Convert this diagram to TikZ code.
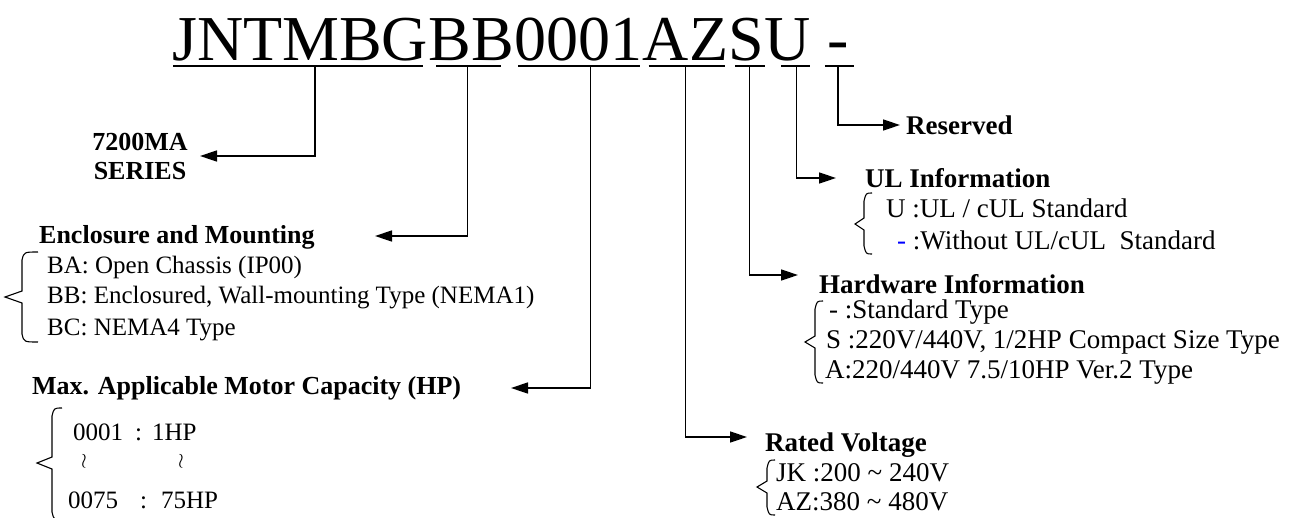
\documentclass[tikz,border=0pt]{standalone}
\usepackage{fontspec}
\setmainfont{Liberation Serif}
\usetikzlibrary{arrows.meta}

% x, top, tip, bottom, tip depth, hook length
\newcommand{\sidebrace}[6]{%
  \draw[curly] (#1+#6,#2) .. controls (#1+2,#2) .. (#1,#2+8) -- (#1,#3-6) -- (#1-#5,#3)
    -- (#1,#3+6) -- (#1,#4-8) .. controls (#1+2,#4) .. (#1+#6,#4);}

\begin{document}
\begin{tikzpicture}[x=1pt,y=-1pt]
        \tikzstyle{code}=[inner sep=0pt,anchor=base west,font=\fontsize{64}{64}\selectfont]
        \tikzstyle{head}=[inner sep=0pt,anchor=west,font=\fontsize{26}{29}\selectfont\bfseries]
        \tikzstyle{headr}=[inner sep=0pt,anchor=west,font=\fontsize{27}{30}\selectfont\bfseries]
        \tikzstyle{item}=[inner sep=0pt,anchor=west,font=\fontsize{25}{29}\selectfont]
        \tikzstyle{itemr}=[inner sep=0pt,anchor=west,font=\fontsize{27}{30}\selectfont]
        \tikzstyle{squig}=[inner sep=0pt,font=\fontsize{22}{22}\selectfont]
        \tikzstyle{bar}=[draw=black,line width=1.8pt]
        \tikzstyle{lead}=[draw=black,line width=1.5pt,-{Triangle[length=17pt,width=11pt]}]
        \tikzstyle{curly}=[draw=black,line width=1.1pt]

       \useasboundingbox (0,0) rectangle (1298,517);
       \clip (0,0) rectangle (1298,517);

       \begin{scope}
         % model code
         \node [code] (c1) at (172,60) {JNTMBG};
         \node [code] (c2) at (c1.base east) {BB};
         \node [code] (c3) at (c2.base east) {0001};
         \node [code] (c4) at (c3.base east) {AZ};
         \node [code] (c5) at (c4.base east) {S};
         \node [code] (c6) at (c5.base east) {U};
         \node [code] (c7) at ([xshift=16pt]c6.base east) {-};

         \draw [bar] ([shift={(1,6)}]c1.base west) -- ([shift={(-5,6)}]c1.base east);
         \draw [bar] ([shift={(8,6)}]c2.base west) -- ([shift={(-13,6)}]c2.base east);
         \draw [bar] ([shift={(4,6)}]c3.base west) -- ([shift={(-3,6)}]c3.base east);
         \draw [bar] ([shift={(6,6)}]c4.base west) -- ([shift={(-3,6)}]c4.base east);
         \draw [bar] ([shift={(7,6)}]c5.base west) -- ([shift={(1,6)}]c5.base east);
         \draw [bar] ([shift={(17,6)}]c6.base west) -- ([shift={(-1,6)}]c6.base east);
         \draw [bar] ([shift={(-2,6)}]c7.base west) -- ([shift={(5,6)}]c7.base east);

         % arrow ends
         \coordinate (e1) at (200,156);
         \coordinate (e2) at (375,236);
         \coordinate (e3) at (511,388);
         \coordinate (e4) at (747,437);
         \coordinate (e5) at (798,275);
         \coordinate (e6) at (836,178);
         \coordinate (e7) at (900,125);

         \path [lead] ([shift={(15,6)}]c1.base) |- (e1);
         \path [lead] ([shift={(-4,6)}]c2.base) |- (e2);
         \path [lead] ([shift={(12,6)}]c3.base) |- (e3);
         \path [lead] ([shift={(0,6)}]c4.base) |- (e4);
         \path [lead] ([shift={(3,6)}]c5.base) |- (e5);
         \path [lead] ([shift={(9,6)}]c6.base) |- (e6);
         \path [lead] ([shift={(0,6)}]c7.base) |- (e7);

         % left side
         \node [head,anchor=center,align=center] (ser) at (140,156) {7200MA\\SERIES};

         \node [head] (enc) at (39,237) {Enclosure and Mounting};
         \node [item] (ba) at (47,267) {BA: Open Chassis (IP00)};
         \node [item] (bb) at (47,298) {BB: Enclosured, Wall-mounting Type (NEMA1)};
         \node [item] (bc) at (47,330) {BC: NEMA4 Type};
         \sidebrace{22}{252}{297}{342}{17}{16}

         \node [head] (mx) at (32,388) {Max. Applicable Motor Capacity (HP)};
         \node [item] (m1) at (73,432) {0001\hspace{12pt}:\hspace{10pt}1HP};
         \node [squig] (t1) at (84,461) {$\wr$};
         \node [squig] (t2) at (181,461) {$\wr$};
         \node [item] (m2) at (68,500) {0075\hspace{22pt}:\hspace{14pt}75HP};
         \sidebrace{52}{408}{463}{520}{15}{10}

         % right side
         \node [headr] (rsv) at (906,125) {Reserved};

         \node [headr] (ul) at (865,178) {UL Information};
         \node [itemr] (u1) at (886,208) {U :UL / cUL Standard};
         \node [itemr] (u2) at (897,240) {\textcolor{blue}{-} :Without UL/cUL\ \ Standard};
         \sidebrace{864}{193}{224}{254}{9}{8}

         \node [headr] (hw) at (819,284) {Hardware Information};
         \node [itemr] (h1) at (829,312) {- :Standard Type};
         \node [itemr] (h2) at (826,342) {S :220V/440V, 1/2HP Compact Size Type};
         \node [itemr] (h3) at (825,372) {A:220/440V 7.5/10HP Ver.2 Type};
         \sidebrace{815}{301}{342}{383}{10}{8}

         \node [headr] (rv) at (765,445) {Rated Voltage};
         \node [itemr] (r1) at (776,473) {JK :200 \textasciitilde\ 240V};
         \node [itemr] (r2) at (776,502) {AZ:380 \textasciitilde\ 480V};
         \sidebrace{767}{460}{487}{515}{10}{8}
       \end{scope}
\end{tikzpicture}
\end{document}
